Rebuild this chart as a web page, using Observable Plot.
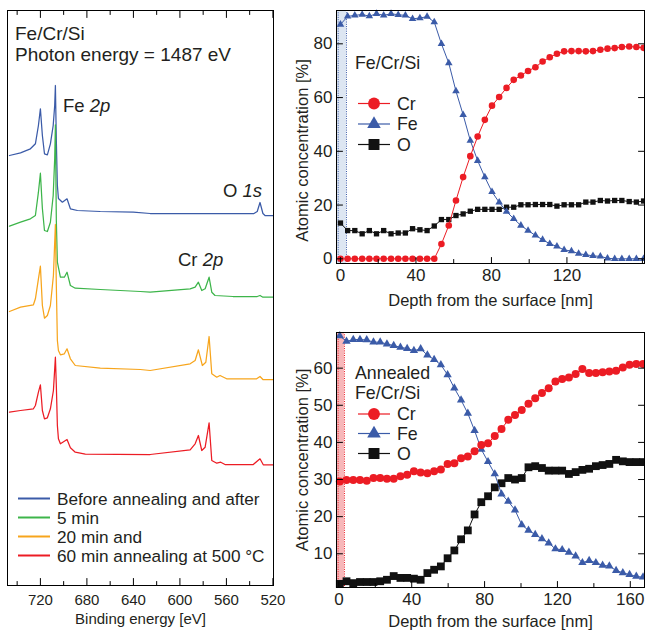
<!DOCTYPE html>
<html>
<head>
<meta charset="utf-8">
<script src="https://cdn.jsdelivr.net/npm/d3@7"></script>
<script src="https://cdn.jsdelivr.net/npm/@observablehq/plot@0.6"></script>
<style>
  html, body { margin: 0; padding: 0; background: #fff; }
  #wrap { position: relative; width: 645px; height: 637px; overflow: hidden; background: #fff; }
  #wrap > svg { position: absolute; overflow: visible; }
</style>
</head>
<body>
<div id="wrap"></div>
<script>
// ---------------- DATA ----------------
// XPS survey spectra (binding energy [eV], intensity [arb. units, stacked])
const spectrumLabels = ["Before annealing and after", "5 min", "20 min and", "60 min annealing at 500 °C"];
const spectrumColors = ["#3b5ba8", "#3db54a", "#f7a51c", "#ec1c24"];

const energyBefore = [746.6, 737.1, 728.6, 724.3, 721.7, 720.0, 718.3, 716.5, 714.0, 711.4, 709.0, 707.7, 707.1, 706.3, 705.4, 704.5, 701.1, 697.1, 694.2, 688.2, 668.5, 640.1, 625.6, 591.0, 560.0, 536.3, 533.5, 531.1, 528.6, 526.8, 520.0];
const intensityBefore = [430, 432.7, 436.7, 441.7, 460, 476.7, 450, 431.7, 430.7, 441.7, 460, 480, 500, 445, 400, 387, 383.3, 386.7, 376.7, 375, 374, 373.3, 372, 372, 372, 372, 374, 383, 372, 370, 370];

const energy5min = [746.6, 737.1, 728.6, 724.3, 721.7, 720.0, 718.3, 716.5, 714.0, 711.4, 709.0, 707.7, 707.1, 706.3, 705.4, 702.8, 699.4, 697.1, 694.2, 690.0, 668.5, 634.1, 625.6, 591.2, 586.9, 584.1, 581.2, 578.3, 574.9, 572.6, 569.8, 554.4, 533.5, 531.1, 528.6, 520.0];
const intensity5min = [359.3, 363.3, 366.7, 370, 393.3, 412.3, 377, 355, 354, 363.3, 390, 427, 460.7, 365, 323.3, 308.3, 308.3, 313.3, 300, 297.3, 296, 294, 293.3, 296.7, 298.3, 303.3, 295, 296.7, 308.3, 293.3, 290, 289, 289, 290, 288.3, 288.3];

const energy20min = [746.6, 737.1, 726.0, 724.3, 721.7, 720.0, 718.3, 716.5, 714.0, 711.4, 708.8, 707.1, 706.3, 705.4, 704.5, 702.8, 699.4, 697.1, 694.2, 690.0, 668.5, 634.1, 625.6, 591.2, 586.9, 584.1, 580.7, 577.7, 574.9, 572.6, 568.3, 565.5, 559.8, 534.0, 531.1, 528.6, 520.0];
const intensity20min = [274, 278.3, 280.7, 286.7, 306.7, 319.3, 280, 267.3, 270, 280, 310, 361, 300, 245, 235, 230.7, 231.7, 236.7, 226.7, 220, 217.3, 216, 215, 221.7, 225, 235.7, 220, 223.3, 249, 211.7, 208.3, 210, 206.7, 206.7, 209, 206, 206];

const energy60min = [746.6, 737.1, 726.0, 724.3, 721.7, 720.0, 718.3, 716.5, 714.0, 711.4, 708.8, 707.1, 706.3, 705.4, 704.5, 702.8, 699.4, 697.1, 694.2, 690.0, 681.4, 625.6, 591.2, 586.9, 584.1, 581.2, 578.3, 574.9, 572.6, 568.3, 564.9, 561.2, 536.9, 531.1, 528.3, 520.0];
const intensity60min = [173.3, 175, 176.7, 180, 193.3, 200.7, 175, 166.7, 167.7, 176.7, 195, 228.3, 200, 160, 146.7, 141.7, 144.3, 146, 137.7, 133.3, 131.3, 131, 135.7, 141.7, 150, 135, 138.3, 162.7, 125, 122.3, 123.3, 121, 121, 126.7, 120.7, 120.7];

const energyTicks = [720, 680, 640, 600, 560, 520];
const energyMinorTicks = [740, 700, 660, 620, 580, 540];

// Depth profile, as-deposited Fe/Cr/Si
const asDepth = [0, 3.8, 7.6, 11.5, 15.3, 19.1, 22.9, 26.8, 30.6, 34.4, 38.2, 42.1, 45.9, 49.7, 53.5, 57.4, 61.2, 65.0, 68.8, 72.7, 76.5, 80.3, 84.1, 88.0, 91.8, 95.6, 99.4, 103.3, 107.1, 110.9, 114.7, 118.5, 122.4, 126.2, 130.0, 133.8, 137.7, 141.5, 145.3, 149.1, 153.0, 156.8, 160.6];
const asCr = [0, 0, 0, 0, 0, 0, 0, 0, 0, 0, 0, 0, 0, 0, 5.5, 12.4, 21.7, 30.4, 38.2, 45.5, 51.7, 57.0, 60.2, 63.6, 66.6, 68.2, 69.9, 71.3, 73.4, 75.0, 76.3, 77.2, 77.3, 77.3, 77.2, 77.3, 77.8, 78.2, 78.4, 78.8, 79.0, 78.8, 78.5];
const asFe = [87.2, 90.2, 90.6, 90.9, 90.3, 91.2, 90.6, 91.2, 90.8, 90.6, 89.3, 89.6, 90.1, 88.1, 80.0, 72.8, 62.4, 53.6, 44.0, 36.5, 30.4, 24.9, 21.0, 17.6, 14.9, 12.4, 10.5, 8.7, 7.1, 5.6, 4.6, 3.3, 2.9, 1.9, 1.5, 1.1, 0.9, 0.2, 0, 0, 0, 0, 0];
const asO = [13.3, 10.5, 10.5, 9.3, 10.5, 9.3, 10.5, 9.3, 9.6, 9.6, 11.2, 10.8, 10.5, 12.2, 14.6, 14.6, 16.1, 16.7, 17.7, 18.4, 18.4, 18.4, 18.4, 19.2, 19.2, 20.1, 20.1, 20.2, 20.2, 20.2, 19.6, 20.1, 20.1, 20.1, 21.1, 21.1, 21.7, 21.5, 21.7, 21.7, 21.3, 21.1, 21.5];
const asSurfaceDepth = 3.2;

// Depth profile, annealed Fe/Cr/Si
const anDepth = [0.5, 4.2, 7.9, 11.6, 15.3, 19.0, 22.7, 26.4, 30.1, 33.8, 37.5, 41.2, 44.9, 48.6, 52.3, 56.0, 59.7, 63.4, 67.1, 70.8, 74.5, 78.2, 81.9, 85.6, 89.3, 93.0, 96.7, 100.4, 104.1, 107.8, 111.5, 115.2, 118.9, 122.6, 126.3, 130.0, 133.7, 137.4, 141.1, 144.8, 148.5, 152.2, 155.9, 159.6, 163.3, 167.0];
const anCr = [29.5, 29.9, 29.9, 29.9, 29.7, 30.4, 30.4, 30.2, 30.2, 30.9, 31.3, 32.2, 31.9, 31.7, 32.2, 32.7, 34.2, 34.4, 35.7, 36.2, 37.6, 39.3, 39.8, 41.7, 43.6, 46.1, 47.4, 48.7, 50.4, 51.9, 53.3, 54.6, 56.4, 57.1, 57.5, 58.4, 59.8, 58.7, 58.7, 58.9, 59.1, 59.3, 60.2, 60.9, 61.1, 61.1];
const anFe = [68.7, 67.2, 67.7, 67.7, 67.6, 67.0, 67.0, 66.5, 66.1, 65.6, 65.3, 64.7, 65.2, 63.5, 62.3, 60.9, 58.2, 54.6, 51.4, 47.8, 43.2, 38.1, 34.8, 31.5, 26.1, 24.1, 21.8, 17.8, 16.3, 15.2, 14.0, 12.9, 11.3, 11.1, 10.4, 9.4, 7.6, 8.2, 7.6, 6.9, 6.7, 5.5, 4.9, 4.4, 3.9, 3.7];
const anO = [1.9, 2.6, 2.1, 2.4, 2.4, 2.4, 2.6, 3.0, 4.0, 3.5, 3.5, 3.3, 3.0, 4.8, 5.7, 6.6, 8.8, 10.9, 13.9, 16.3, 20.6, 23.9, 25.5, 27.9, 29.0, 30.4, 30.0, 30.4, 33.3, 33.6, 33.1, 32.4, 32.4, 32.4, 31.5, 32.0, 32.6, 32.9, 33.6, 33.9, 34.2, 35.3, 34.9, 34.7, 34.7, 34.7];
const anSurfaceDepth = 3.1;

const elements = ["Cr", "Fe", "O"];
const elementColors = ["#ec1c24", "#3b5ba8", "#111111"];
const elementSymbols = ["circle", "triangle", "square"];

const asDepthTicks = [0, 40, 80, 120];
const asDepthMinor = [20, 60, 100, 140, 160];
const asConcTicks = [0, 20, 40, 60, 80];
const anDepthTicks = [0, 40, 80, 120, 160];
const anDepthMinor = [20, 60, 100, 140];
const anConcTicks = [10, 20, 30, 40, 50, 60];

// ---------------- HELPERS ----------------
const FONT = "'Liberation Sans', Arial, Helvetica, sans-serif";
const INK = "#231f20";
const tickShape = { draw(ctx, l) { ctx.moveTo(0, 0); ctx.lineTo(0, -l); } };
function inTicks(side, values, len) {
  const o = { shape: tickShape, length: len, anchor: "start", stroke: "#000", strokeWidth: 1 };
  if (side === "bottom") return Plot.vectorX(values, { x: d => d, frameAnchor: "bottom", rotate: 0, ...o });
  if (side === "top") return Plot.vectorX(values, { x: d => d, frameAnchor: "top", rotate: 180, ...o });
  if (side === "left") return Plot.vectorY(values, { y: d => d, frameAnchor: "left", rotate: 90, ...o });
  return Plot.vectorY(values, { y: d => d, frameAnchor: "right", rotate: -90, ...o });
}
function rowsOf(depth, series) {
  return series.flatMap(([name, vals]) => vals.map((v, i) => ({ el: name, depth: depth[i], c: v })));
}

const wrap = document.getElementById("wrap");

// ---------------- LEFT PANEL: spectra ----------------
const spectra = [
  [energyBefore, intensityBefore], [energy5min, intensity5min],
  [energy20min, intensity20min], [energy60min, intensity60min]
];
const specRows = spectra.flatMap(([E, I], k) => E.map((e, i) => ({ series: spectrumLabels[k], E: e, I: I[i] })));
const eDomain = [748.3, 519.5];

const left = Plot.plot({
  width: 290, height: 637,
  marginLeft: 7, marginRight: 17, marginTop: 10, marginBottom: 52,
  style: { fontFamily: FONT, color: INK, background: "transparent", overflow: "visible" },
  x: { domain: eDomain },
  y: { domain: [0, 575], axis: null },
  color: { domain: spectrumLabels, range: spectrumColors },
  marks: [
    Plot.line(specRows, { x: "E", y: "I", z: "series", stroke: "series", strokeWidth: 1.25 }),
    Plot.frame({ stroke: "#000" }),
    Plot.axisX({ ticks: energyTicks, tickSize: 0, tickPadding: 9, fontSize: 15, label: null, fill: INK }),
    inTicks("bottom", energyTicks, 7), inTicks("bottom", energyMinorTicks, 4),
    inTicks("top", energyTicks, 7), inTicks("top", energyMinorTicks, 4),
    Plot.text(["Binding energy [eV]"], { frameAnchor: "bottom", dy: 34, fontSize: 15, lineAnchor: "middle", textAnchor: "middle", fill: INK })
  ]
});
left.style.left = "0px"; left.style.top = "0px";
wrap.appendChild(left);

{
  const s = d3.select(left).append("g").attr("font-family", FONT).attr("fill", INK).attr("text-anchor", "start");
  s.append("text").attr("x", 15).attr("y", 40).attr("font-size", 19).text("Fe/Cr/Si");
  s.append("text").attr("x", 15).attr("y", 61).attr("font-size", 19).text("Photon energy = 1487 eV");
  const lab = (x, y, a, b) => {
    const t = s.append("text").attr("x", x).attr("y", y).attr("font-size", 18.5);
    t.append("tspan").text(a);
    t.append("tspan").attr("dx", "0.28em").attr("font-style", "italic").text(b);
  };
  lab(63, 112, "Fe", "2p");
  lab(223, 196.5, "O", "1s");
  lab(178, 265.5, "Cr", "2p");
  const lg = s.append("g");
  spectrumLabels.forEach((name, i) => {
    const y = 498.5 + i * 19;
    lg.append("line").attr("x1", 18).attr("x2", 50).attr("y1", y).attr("y2", y)
      .attr("stroke", spectrumColors[i]).attr("stroke-width", 2);
    lg.append("text").attr("x", 57).attr("y", y + 6).attr("font-size", 17.2).text(name);
  });
}

// ---------------- RIGHT PANELS: depth profiles ----------------
function profilePlot(opts) {
  const { depth, series, xDomain, yDomain, xTicks, xMinor, yTicks, surface, bandFill, bandStroke,
          height, marginTop, marginBottom, sizes, yTitleDy, xTitleDy } = opts;
  const rows = rowsOf(depth, series);
  const marks = [
    Plot.rect([surface], { x1: xDomain[0], x2: d => d, fill: bandFill }),
    Plot.ruleX([xDomain[0] + 0.9, surface], { stroke: bandStroke, strokeWidth: 1, strokeDasharray: "1,1.3" })
  ];
  ["O", "Fe", "Cr"].forEach(el => {
    const k = elements.indexOf(el);
    const data = rows.filter(d => d.el === el);
    marks.push(Plot.line(data, { x: "depth", y: "c", stroke: elementColors[k], strokeWidth: 1 }));
    marks.push(Plot.dot(data, { x: "depth", y: "c", symbol: elementSymbols[k], fill: elementColors[k], r: sizes[k], stroke: "none" }));
  });
  marks.push(
    Plot.frame({ stroke: "#000" }),
    Plot.axisX({ ticks: xTicks, tickSize: 0, tickPadding: 5, fontSize: 17, label: null, fill: INK }),
    Plot.axisY({ ticks: yTicks, tickSize: 0, tickPadding: 4, fontSize: 17, label: null, fill: INK }),
    inTicks("bottom", xTicks, 6), inTicks("bottom", xMinor, 4),
    inTicks("left", yTicks, 6), inTicks("right", yTicks, 6),
    Plot.text(["Depth from the surface [nm]"], { frameAnchor: "bottom", dy: xTitleDy, fontSize: 16.5, lineAnchor: "middle", textAnchor: "middle", fill: INK }),
    Plot.text(["Atomic concentration [%]"], { frameAnchor: "left", dx: -34, dy: yTitleDy, rotate: -90, fontSize: 16.5, lineAnchor: "middle", textAnchor: "middle", fill: INK })
  );
  return Plot.plot({
    width: 355, height, marginLeft: 46, marginRight: 1, marginTop, marginBottom,
    style: { fontFamily: FONT, color: INK, background: "transparent", overflow: "visible" },
    x: { domain: xDomain }, y: { domain: yDomain },
    marks
  });
}

function addLegend(svg, titleLines, titleY, rowY) {
  const s = d3.select(svg).append("g").attr("font-family", FONT).attr("fill", INK).attr("text-anchor", "start");
  titleLines.forEach((t, i) => s.append("text").attr("x", 65).attr("y", titleY[i]).attr("font-size", 17.8).text(t));
  elements.forEach((el, i) => {
    const y = rowY[i];
    s.append("line").attr("x1", 68).attr("x2", 100).attr("y1", y).attr("y2", y)
      .attr("stroke", elementColors[i]).attr("stroke-width", 1.2);
    const sym = [d3.symbolCircle, d3.symbolTriangle, d3.symbolSquare][i];
    const area = [110, 80, 120][i];
    s.append("path").attr("d", d3.symbol(sym, area)()).attr("transform", `translate(84,${y})`).attr("fill", elementColors[i]);
    s.append("text").attr("x", 107).attr("y", y + 6).attr("font-size", 17.8).text(el);
  });
}

const topPlot = profilePlot({
  depth: asDepth, series: [["Cr", asCr], ["Fe", asFe], ["O", asO]],
  xDomain: [-2.1, 161.1], yDomain: [-1.75, 92.4],
  xTicks: asDepthTicks, xMinor: asDepthMinor, yTicks: asConcTicks,
  surface: asSurfaceDepth, bandFill: "#dde6f2", bandStroke: "#3b5ba8",
  height: 320, marginTop: 10, marginBottom: 57, sizes: [3.3, 2.8, 3.0],
  yTitleDy: 13.5, xTitleDy: 37
});
topPlot.style.left = "290px"; topPlot.style.top = "0px";
wrap.appendChild(topPlot);
addLegend(topPlot, ["Fe/Cr/Si"], [68.5], [103.5, 124, 144.5]);

const botPlot = profilePlot({
  depth: anDepth, series: [["Cr", anCr], ["Fe", anFe], ["O", anO]],
  xDomain: [-1.3, 167.8], yDomain: [0.92, 69.6],
  xTicks: anDepthTicks, xMinor: anDepthMinor, yTicks: anConcTicks,
  surface: anSurfaceDepth, bandFill: "#f7b7b9", bandStroke: "#ec1c24",
  height: 317, marginTop: 12, marginBottom: 50, sizes: [4.0, 3.1, 4.4],
  yTitleDy: 0, xTitleDy: 34
});
botPlot.style.left = "290px"; botPlot.style.top = "320px";
wrap.appendChild(botPlot);
addLegend(botPlot, ["Annealed", "Fe/Cr/Si"], [58.5, 78.5], [94, 113.5, 133.5]);
</script>
</body>
</html>
